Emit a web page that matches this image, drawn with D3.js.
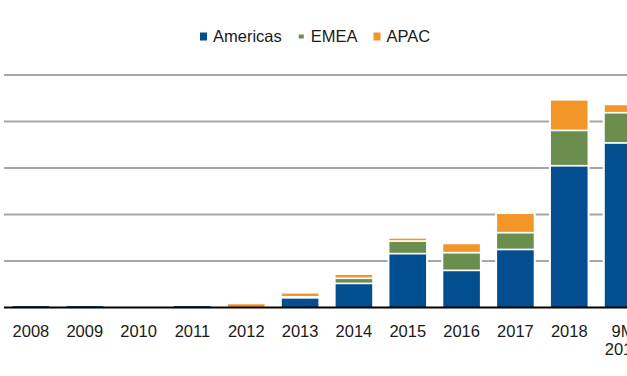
<!DOCTYPE html>
<html>
<head>
<meta charset="utf-8">
<script src="https://cdn.jsdelivr.net/npm/d3@7"></script>
<style>
    html, body { margin: 0; padding: 0; background: #fff; overflow: hidden; }
    text { font-family: "Liberation Sans", Arial, sans-serif; }
</style>
</head>
<body>
<div id="chart"></div>
<script>
    // data (one gridline = 100 units)
    var categories = ["2008", "2009", "2010", "2011", "2012", "2013", "2014", "2015", "2016", "2017", "2018", "9M 2019"];
    var seriesNames = ["Americas", "EMEA", "APAC"];
    var americas = [3, 3, 0, 3, 0, 19, 50, 114, 78, 123, 303, 352];
    var emea = [0, 0, 0, 0, 0, 2, 11, 27, 38, 36, 76, 65];
    var apac = [0, 0, 0, 0, 7, 9, 9, 7, 20, 42, 66, 18];
    var yTicks = [100, 200, 300, 400, 500];

    var colors = ["#024e91", "#6b8e4e", "#f3962a"];
    var width = 627, height = 376;

    var rows = categories.map(function (c, i) {
        return { cat: c, Americas: americas[i], EMEA: emea[i], APAC: apac[i] };
    });

    var svg = d3.select("#chart").append("svg")
        .attr("width", width)
        .attr("height", height);

    // plot runs past the right edge, the picture is cropped there
    var x = d3.scaleBand().domain(categories).range([4, 650]).paddingInner(0.32).paddingOuter(0.16);
    var y = d3.scaleLinear().domain([0, 500]).range([307.5, 75]);

    // gridlines
    svg.append("g").selectAll("line")
        .data(yTicks)
        .enter().append("line")
        .attr("x1", 4).attr("x2", 650)
        .attr("y1", function (d) { return y(d); })
        .attr("y2", function (d) { return y(d); })
        .style("stroke", "#a6a6a6")
        .style("stroke-width", 2);

    var stacked = d3.stack().keys(seriesNames)(rows);

    // white halo behind each stack, cuts the gridlines
    svg.append("g").selectAll("rect")
        .data(rows)
        .enter().append("rect")
        .attr("x", function (d) { return x(d.cat) - 2; })
        .attr("width", x.bandwidth() + 4)
        .attr("y", function (d) { return y(d.Americas + d.EMEA + d.APAC) - 2; })
        .attr("height", function (d) {
            var t = d.Americas + d.EMEA + d.APAC;
            return t > 0 ? y(0) - y(t) + 2 : 0;
        })
        .style("fill", "#fff");

    var gap = 1.7;
    svg.append("g").selectAll("g")
        .data(stacked)
        .enter().append("g")
        .style("fill", function (d, i) { return colors[i]; })
        .selectAll("rect")
        .data(function (d) { return d.filter(function (p) { return p[1] - p[0] > 0; }); })
        .enter().append("rect")
        .attr("x", function (d) { return x(d.data.cat); })
        .attr("width", x.bandwidth())
        .attr("y", function (d) { return y(d[1]); })
        .attr("height", function (d) {
            var h = y(d[0]) - y(d[1]) - (d[0] > 0 ? gap : 0);
            return Math.max(0, h);
        });

    // baseline
    svg.append("line")
        .attr("x1", 4).attr("x2", 650)
        .attr("y1", y(0)).attr("y2", y(0))
        .style("stroke", "#000")
        .style("stroke-width", 2);

    // category labels
    var labels = svg.append("g").selectAll("text")
        .data(categories)
        .enter().append("text")
        .attr("x", function (d) { return x(d) + x.bandwidth() / 2; })
        .attr("y", 336.5)
        .attr("text-anchor", "middle")
        .style("font-size", "16.5px")
        .style("fill", "#1a1a1a");

    labels.each(function (d) {
        var parts = d.split(" ");
        var t = d3.select(this);
        parts.forEach(function (p, i) {
            t.append("tspan")
                .attr("x", x(d) + x.bandwidth() / 2)
                .attr("dy", i === 0 ? 0 : 18.5)
                .text(p);
        });
    });

    // legend
    var swatchSizes = [[7, 8], [5, 4], [7, 8]];
    var legend = svg.append("g");
    var lx = 200;
    seriesNames.forEach(function (name, i) {
        var sw = swatchSizes[i];
        legend.append("rect")
            .attr("x", lx + (7 - sw[0]) / 2)
            .attr("y", 36.5 - sw[1] / 2)
            .attr("width", sw[0])
            .attr("height", sw[1])
            .style("fill", colors[i]);
        var txt = legend.append("text")
            .attr("x", lx + 13)
            .attr("y", 41.5)
            .style("font-size", "16.5px")
            .style("fill", "#1a1a1a")
            .text(name);
        lx = lx + 13 + txt.node().getComputedTextLength() + 16;
    });
</script>
</body>
</html>
